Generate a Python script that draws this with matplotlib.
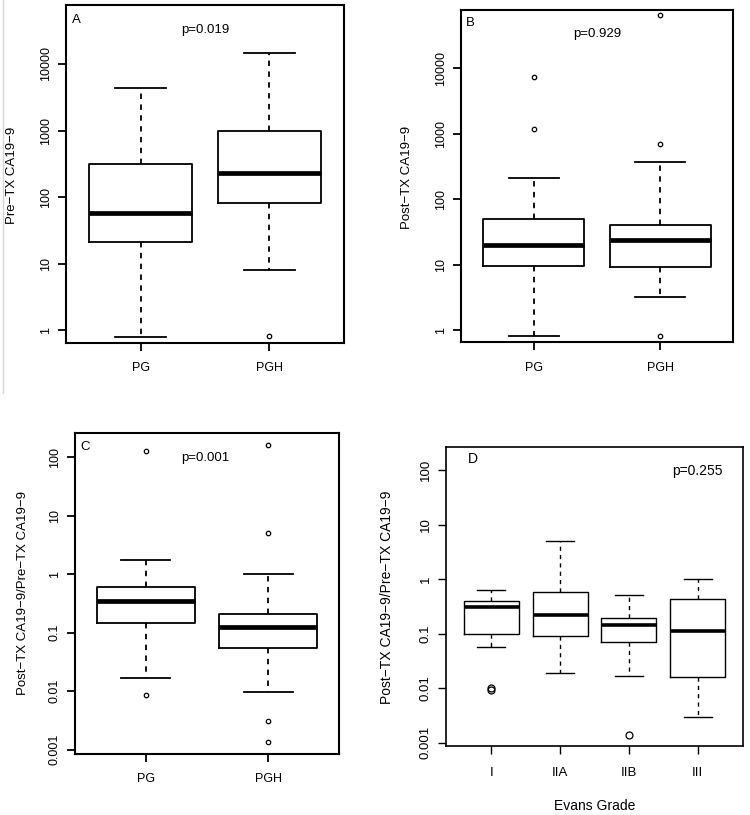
import matplotlib.pyplot as plt
from matplotlib.lines import Line2D

GROUPS = ["PG", "PGH"]
GRADES = ["I", "IIA", "IIB", "III"]

# five-number summaries: whisker low, Q1, median, Q3, whisker high
PRE_PG = [0.79, 20.8, 57, 313, 4400]
PRE_PGH = [7.9, 82, 232, 1000, 14800]
PRE_FLIERS = [[], [0.8]]

POST_PG = [0.81, 9.4, 20, 50, 213]
POST_PGH = [3.2, 9.2, 23.8, 40, 367]
POST_FLIERS = [[7300, 1170], [65600, 698, 0.8]]

RATIO_PG = [0.0171, 0.147, 0.354, 0.61, 1.78]
RATIO_PGH = [0.0096, 0.0556, 0.124, 0.207, 1.0]
RATIO_FLIERS = [[130, 0.00875], [162, 5.0, 0.0031, 0.00137]]

GRADE_I = [0.0558, 0.0966, 0.31, 0.39, 0.637]
GRADE_IIA = [0.0188, 0.0889, 0.221, 0.577, 4.98]
GRADE_IIB = [0.0168, 0.069, 0.143, 0.195, 0.508]
GRADE_III = [0.003, 0.0157, 0.111, 0.435, 1.0]
GRADE_FLIERS = [[0.0092, 0.0098], [], [0.00137], []]

PRE_TICKS = [1, 10, 100, 1000, 10000]
RATIO_TICKS = [0.001, 0.01, 0.1, 1, 10, 100]

RATIO_LABEL = "Post\u2212TX CA19\u22129/Pre\u2212TX CA19\u22129"

plt.rcParams.update({
    "font.family": ["Liberation Sans", "DejaVu Sans"],
    "font.size": 9,
})

W, H = 750, 815
fig = plt.figure(figsize=(W / 100, H / 100), dpi=100)


def rect(x0, y0, x1, y1):
    # pixel box (top-left origin) -> figure fraction
    return [x0 / W, 1 - y1 / H, (x1 - x0) / W, (y1 - y0) / H]


def stats_from(summaries, fliers, labels):
    out = []
    for s, f, lab in zip(summaries, fliers, labels):
        out.append({"whislo": s[0], "q1": s[1], "med": s[2], "q3": s[3],
                    "whishi": s[4], "fliers": f, "label": lab})
    return out


def panel(box, summaries, fliers, labels, ticks, ylim, ylabel, ylabel_xy,
          letter, letter_xy, ptext, p_xy, lw=1.3, med_lw=3.4, ms=3.2, fs=9):
    ax = fig.add_axes(rect(*box))
    n = len(labels)
    ax.bxp(stats_from(summaries, fliers, labels), positions=range(1, n + 1),
           widths=0.8, capwidths=0.4, showfliers=True,
           boxprops=dict(color="black", lw=lw),
           medianprops=dict(color="black", lw=med_lw, solid_capstyle="butt"),
           whiskerprops=dict(color="black", lw=lw, linestyle=(0, (3, 3))),
           capprops=dict(color="black", lw=lw),
           flierprops=dict(marker="o", markersize=ms, markerfacecolor="none",
                           markeredgecolor="black", markeredgewidth=0.9))
    ax.set_yscale("log")
    ax.set_ylim(*ylim)
    # R pads the 0.5..n+0.5 range by 4% on each side
    span = n * 1.08
    ax.set_xlim(0.5 + n / 2 - span / 2, 0.5 + n / 2 + span / 2)
    ax.set_yticks(ticks)
    ax.set_yticklabels([f"{t:g}" for t in ticks], rotation=90, va="center")
    ax.minorticks_off()
    ax.set_xticks(range(1, n + 1))
    ax.set_xticklabels(labels, fontsize=fs)
    ax.tick_params(axis="both", length=6, width=lw, labelsize=fs, pad=8)
    ax.tick_params(axis="y", pad=4)
    for sp in ax.spines.values():
        sp.set_linewidth(lw + 0.2)
    fig.text(ylabel_xy[0] / W, 1 - ylabel_xy[1] / H, ylabel, rotation=90,
             ha="center", va="center", fontsize=fs + 0.5)
    ax.text(*letter_xy, letter, transform=ax.transAxes, fontsize=fs + 0.5,
            ha="center", va="center")
    ax.text(*p_xy, ptext, transform=ax.transAxes, fontsize=fs + 0.5,
            ha="center", va="center")
    return ax


axA = panel((66, 5, 344, 343), [PRE_PG, PRE_PGH], PRE_FLIERS, GROUPS,
            PRE_TICKS, (10 ** -0.195, 10 ** 4.887), "Pre\u2212TX CA19\u22129", (12, 175),
            "A", (0.036, 0.955), "p=0.019", (0.50, 0.925))

axB = panel((460.7, 10, 733.3, 342.3), [POST_PG, POST_PGH], POST_FLIERS, GROUPS,
            PRE_TICKS, (10 ** -0.188, 10 ** 4.893), "Post\u2212TX CA19\u22129", (406.7, 177),
            "B", (0.037, 0.96), "p=0.929", (0.50, 0.928))

axC = panel((74.7, 432.7, 339.3, 753.7), [RATIO_PG, RATIO_PGH], RATIO_FLIERS, GROUPS,
            RATIO_TICKS, (10 ** -3.067, 10 ** 2.42), RATIO_LABEL, (22.7, 593),
            "C", (0.038, 0.955), "p=0.001", (0.495, 0.92))

axD = panel((445.7, 447.3, 743.3, 746), [GRADE_I, GRADE_IIA, GRADE_IIB, GRADE_III],
            GRADE_FLIERS, GRADES, RATIO_TICKS, (10 ** -3.064, 10 ** 2.417),
            RATIO_LABEL, (386.7, 597),
            "D", (0.09, 0.96), "p=0.255", (0.847, 0.922),
            lw=1.0, med_lw=2.6, ms=5, fs=9.5)
axD.tick_params(axis="x", pad=9)
fig.text(595 / W, 1 - 806 / H, "Evans Grade", ha="center", va="center", fontsize=10)

# faint border left over from the original panel image
fig.add_artist(Line2D([3 / W, 3 / W], [1, 1 - 393 / H], color="#d6d6d6", lw=1))

fig.savefig("out.png", dpi=100)
